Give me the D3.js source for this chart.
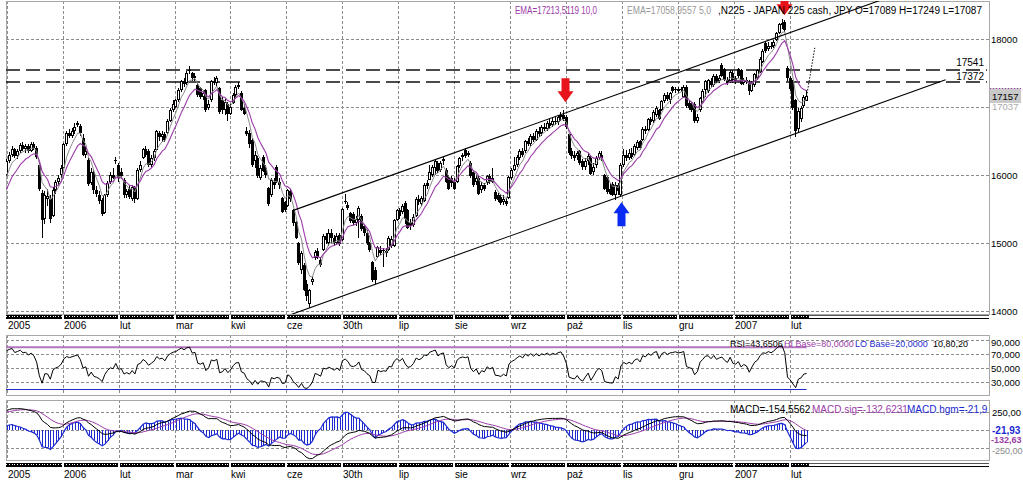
<!DOCTYPE html>
<html>
<head>
<meta charset="utf-8">
<script src="https://cdn.jsdelivr.net/npm/d3@7"></script>
<style>
  body { margin: 0; background: #fff; }
  svg { display: block; }
  text { font-family: "Liberation Sans", Arial, sans-serif; }
</style>
</head>
<body>
<svg id="chart" width="1023" height="482"></svg>
<script>
// daily N225 bars
var open = [
  16000,16200,16300,16380,16280,16360,16440,16380,16420,16360,
  16450,16400,16150,15740,15350,15650,15640,15400,15780,15890,
  16000,16110,16450,16620,16570,16640,16740,16720,16550,16300,
  16220,15880,16050,15780,15700,15630,15440,15700,15900,16000,
  16200,16150,16050,15930,15700,15800,15650,15820,15640,16080,
  16250,16380,16350,16150,16250,16370,16620,16560,16600,16620,
  16800,16950,17000,17100,17250,17380,17350,17540,17500,17420,
  17330,17280,17150,17250,16980,17100,17380,17350,17280,17100,
  16950,17050,16900,17060,17180,17300,17200,16980,16650,16620,
  16520,16200,16250,15960,16270,16100,15810,15700,15900,16120,
  15900,15660,15600,15550,15760,15490,15310,15000,14600,14680,
  14400,14100,14430,14780,14880,14750,14900,15100,15000,15150,
  15080,15000,15120,15050,15600,15560,15440,15420,15300,15340,
  15400,15250,15150,15000,14720,14600,14800,14900,14880,14850,
  14900,14950,14960,15340,15480,15450,15590,15490,15300,15260,
  15400,15650,15580,15620,15880,15930,16000,16100,16180,16080,
  16200,16080,15970,15950,15900,15900,16130,16260,16370,16300,
  16180,16050,15900,15960,15780,15850,15880,15980,15900,15750,
  15700,15680,15600,15620,15660,15950,16080,16150,16250,16350,
  16350,16500,16450,16580,16520,16650,16620,16700,16680,16760,
  16730,16800,16780,16850,16880,16850,16600,16350,16300,16280,
  16350,16200,16120,16200,16250,16050,16150,16250,16300,16000,
  15970,15800,15870,15700,15850,15700,16150,16300,16250,16320,
  16300,16400,16500,16520,16680,16660,16820,16800,16880,16950,
  16960,17090,17170,17100,17290,17250,17260,17250,17150,17300,
  17060,17040,17050,16800,16950,17080,17250,17230,17380,17320,
  17460,17380,17620,17560,17400,17380,17500,17420,17560,17540,
  17350,17400,17370,17240,17330,17420,17520,17660,17940,17850,
  17900,17890,17990,18090,18200,18250,17570,17430,17370,17100,
  16680,16820,17010,17089
];
var high = [
  16230,16340,16420,16400,16380,16470,16480,16460,16450,16480,
  16490,16420,16180,15780,15760,15800,15700,15820,15920,16000,
  16140,16470,16650,16670,16690,16760,16790,16750,16600,16420,
  16250,16100,16080,15840,15760,15660,15720,15910,16050,16100,
  16270,16180,16100,15950,15800,15850,15850,15840,16100,16200,
  16400,16420,16380,16300,16380,16660,16650,16640,16630,16830,
  16980,17100,17120,17280,17400,17430,17530,17600,17520,17500,
  17360,17300,17250,17270,17100,17400,17440,17450,17300,17150,
  17120,17080,17050,17200,17330,17370,17230,17050,16700,16660,
  16540,16350,16280,16150,16300,16150,15830,15960,15960,16150,
  15950,15680,15620,15800,15800,15500,15330,15020,14880,14700,
  14450,14330,14520,14900,14920,14800,15130,15150,15200,15200,
  15120,15150,15150,15520,15720,15600,15460,15450,15400,15540,
  15420,15280,15190,15020,14740,14650,14960,14950,14920,14930,
  15100,15100,15360,15500,15510,15570,15620,15500,15350,15420,
  15670,15700,15690,15880,15930,16150,16150,16220,16200,16200,
  16260,16100,16000,15980,15950,16150,16270,16330,16400,16350,
  16200,16080,16000,15980,15900,15880,16000,16020,16100,15780,
  15740,15720,15700,15660,15990,16100,16270,16290,16380,16400,
  16520,16550,16600,16620,16680,16700,16740,16760,16790,16820,
  16840,16850,16880,16920,16950,16880,16620,16400,16350,16360,
  16370,16240,16250,16320,16280,16170,16280,16360,16350,16020,
  15990,15880,15890,15900,15880,16170,16380,16370,16380,16400,
  16460,16520,16520,16700,16720,16840,16860,16950,17010,16970,
  17110,17200,17220,17220,17310,17290,17290,17290,17320,17320,
  17100,17070,17070,16900,17150,17260,17400,17410,17420,17480,
  17490,17470,17640,17580,17440,17540,17540,17460,17580,17560,
  17430,17440,17390,17380,17500,17560,17730,17850,17960,17950,
  17960,17990,18110,18240,18300,18280,17600,17450,17400,17120,
  16980,17020,17170,17249
];
var low = [
  15980,16170,16260,16250,16240,16330,16350,16330,16320,16340,
  16370,16230,15760,15070,15280,15550,15300,15380,15720,15860,
  15960,16100,16420,16550,16540,16610,16700,16580,16280,16250,
  15840,15850,15720,15680,15580,15400,15420,15680,15870,15940,
  16160,15900,15940,15660,15660,15650,15620,15590,15630,16050,
  16230,16260,16120,16120,16200,16350,16500,16490,16480,16600,
  16780,16930,16980,17080,17220,17300,17330,17480,17380,17380,
  17150,17120,17100,16920,16950,17080,17320,17300,16900,16900,
  16880,16800,16880,17040,17150,17270,16940,16880,16570,16400,
  16120,16100,15950,15920,16040,15950,15550,15680,15800,15880,
  15800,15440,15450,15530,15600,15250,15060,14680,14550,14290,
  14150,14050,14380,14750,14760,14640,14880,14990,14960,15000,
  14950,14970,14950,15030,15580,15480,15290,15260,15250,15080,
  15170,15100,14970,14870,14430,14400,14780,14820,14650,14800,
  14880,14920,14940,15320,15360,15420,15280,15200,15190,15230,
  15380,15560,15550,15600,15800,15920,15970,16000,16030,16040,
  16150,15880,15780,15820,15780,15880,16100,16200,16250,16260,
  15960,15830,15850,15700,15740,15760,15860,15870,15880,15620,
  15600,15560,15560,15540,15640,15930,16060,16120,16220,16270,
  16330,16420,16420,16480,16500,16560,16580,16640,16640,16680,
  16700,16740,16740,16800,16800,16680,16300,16230,16200,16220,
  16150,16080,16080,16150,16000,16000,16100,16220,16200,15780,
  15720,15700,15690,15630,15700,15680,16120,16210,16220,16240,
  16280,16370,16370,16500,16600,16640,16740,16770,16860,16810,
  16940,17060,17090,17040,17200,17210,17210,17220,17130,16990,
  16950,16930,16770,16770,16930,17060,17150,17210,17300,17300,
  17350,17350,17440,17380,17330,17350,17360,17340,17430,17320,
  17330,17340,17180,17220,17300,17400,17500,17640,17800,17820,
  17850,17870,17970,18070,18140,18100,17380,17230,16950,16560,
  16620,16780,16980,17087
];
var close = [
  16200,16300,16380,16280,16350,16440,16380,16420,16360,16450,
  16400,16260,15800,15340,15700,15690,15350,15780,15890,15950,
  16100,16450,16620,16580,16640,16700,16760,16620,16300,16350,
  15870,16050,15780,15720,15620,15420,15700,15880,16000,15960,
  16220,15950,15980,15700,15760,15680,15820,15650,16080,16150,
  16380,16300,16150,16250,16360,16640,16560,16600,16520,16800,
  16950,17050,17100,17250,17380,17340,17500,17550,17420,17460,
  17180,17150,17200,16950,17050,17380,17350,17420,16920,16950,
  17080,16900,17000,17180,17300,17320,16960,16900,16600,16450,
  16150,16300,15980,16100,16060,16000,15580,15930,15850,15900,
  15850,15460,15480,15780,15650,15300,15080,14700,14860,14310,
  14220,14310,14470,14870,14800,14680,15100,15050,15150,15080,
  15000,15100,14980,15500,15620,15520,15320,15300,15350,15520,
  15200,15150,15000,14900,14450,14450,14940,14860,14900,14880,
  15080,15060,15340,15480,15400,15540,15350,15220,15250,15380,
  15650,15600,15660,15860,15840,16050,16120,16200,16060,16180,
  16230,15900,15800,15880,15800,16130,16250,16300,16280,16320,
  15980,15850,15950,15720,15850,15800,15980,15900,15960,15640,
  15630,15590,15650,15580,15970,16080,16150,16260,16350,16300,
  16500,16450,16580,16520,16650,16600,16700,16680,16760,16720,
  16800,16780,16850,16880,16820,16700,16320,16280,16250,16320,
  16180,16120,16200,16280,16020,16120,16250,16320,16250,15800,
  15750,15720,15710,15850,15760,16150,16300,16250,16320,16270,
  16420,16480,16400,16680,16650,16820,16780,16920,16990,16830,
  17090,17170,17120,17200,17230,17260,17240,17260,17300,17010,
  16980,16960,16790,16860,17130,17240,17380,17390,17330,17460,
  17380,17430,17460,17400,17360,17520,17400,17380,17450,17340,
  17400,17370,17230,17350,17480,17540,17710,17830,17820,17900,
  17880,17960,18090,18220,18230,18130,17420,17260,16980,16640,
  16940,16990,17140,17157
];
// closes before the first drawn bar, only to warm up the indicators
var priorClose = [
  13870,13980,14020,14100,14170,14080,14150,14260,14390,14470,
  14550,14620,14490,14580,14680,14750,14870,14900,15130,15420,
  15550,15420,15180,15400,15740,15480,15360,15250,15170,15530,
  15640,15940,15960,16000,15950
];

var tickBars = [0, 20.5, 41, 61.5, 82, 102.5, 123, 143.5, 164, 184.5, 205, 225.5, 246, 266.5, 287];
var tickLabels = ["2005", "2006", "lut", "mar", "kwi", "cze", "30th", "lip", "sie", "wrz", "paź", "lis", "gru", "2007", "lut"];
var priceGrid = [18000, 17000, 16000, 15000, 14000];
var priceLabels = [18000, 16000, 15000, 14000];
var levels = [17541, 17372];
var upperChannel = [[105, 15480], [330, 18713]];
var lowerChannel = [[103.6, 13940], [343.9, 17400]];
var projection = [[293, 17157], [296, 17870]];
var arrows = [
  {bar: 204.4, price: 17070, dir: "down", color: "#e8141c"},
  {bar: 284.9, price: 18350, dir: "down", color: "#e8141c"},
  {bar: 224.9, price: 15600, dir: "up", color: "#0a2cf2"}
];
var rsiGrid = [90, 70, 50, 30];
var rsiGridLabels = ["90,000", "70,000", "50,000", "30,000"];
var rsiBase = {hi: 80, lo: 20};
var macdGrid = [250, 0, -250];

var purple = "#9b3ca8", blue = "#1c2ad0";
var left = 6, right = 989;
var mainTop = 1, mainBottom = 314;
var rsiTop = 335, rsiBottom = 395;
var macdTop = 400, macdBottom = 460;

// indicators
function ema(values, n) {
  var k = 2 / (n + 1), out = [], prev;
  values.forEach(function(v, i) {
    prev = i === 0 ? v : v * k + prev * (1 - k);
    out.push(prev);
  });
  return out;
}
function rsi(values, n) {
  var out = [50], up = 0, down = 0;
  for (var i = 1; i < values.length; i++) {
    var d = values[i] - values[i - 1];
    var g = Math.max(d, 0), l = Math.max(-d, 0);
    if (i <= n) { up += g / n; down += l / n; }
    else { up = (up * (n - 1) + g) / n; down = (down * (n - 1) + l) / n; }
    out.push(down === 0 ? 100 : 100 - 100 / (1 + up / down));
  }
  return out;
}
var all = priorClose.concat(close), skip = priorClose.length;
var ema10 = ema(all, 10).slice(skip);
var ema5 = ema(all, 5).slice(skip);
var rsi10 = rsi(all, 10).slice(skip);
var e12 = ema(all, 12), e26 = ema(all, 26);
var macdAll = e12.map(function(v, i) { return v - e26[i]; });
var sigAll = ema(macdAll, 9);
var macd = macdAll.slice(skip), signal = sigAll.slice(skip);
var hist = macd.map(function(v, i) { return v - signal[i]; });

var bars = d3.range(close.length);
var x = d3.scaleLinear().domain([0, 293]).range([6.6, 806.6]);
var y = d3.scaleLinear().domain([14000, 18000]).range([311, 39]);
var yRsi = d3.scaleLinear().domain([30, 90]).range([382.3, 340.3]);
// grid/labels of the MACD pane, a squeezed scale for the lines, a stretched one for the histogram
var yMacdAxis = d3.scaleLinear().domain([-250, 250]).range([448.3, 411.7]);
var yMacd = d3.scaleLinear().domain([-360, 360]).range([448.3, 411.7]);
var yHist = d3.scaleLinear().domain([-150, 150]).range([448.3, 411.7]);

var svg = d3.select("#chart");
var defs = svg.append("defs");
function clip(id, y0, y1) {
  defs.append("clipPath").attr("id", id).append("rect")
    .attr("x", left).attr("y", y0).attr("width", right - left).attr("height", y1 - y0);
  return "url(#" + id + ")";
}
var px = function(v) { return Math.round(v) + 0.5; };

function panel(y0, y1, hValues, scale) {
  var g = svg.append("g");
  g.selectAll(".vg").data(tickBars).enter().append("line")
    .attr("x1", function(d) { return px(x(d)); }).attr("x2", function(d) { return px(x(d)); })
    .attr("y1", y0).attr("y2", y1)
    .attr("stroke", "#8c8c8c").attr("stroke-dasharray", "3,2");
  g.selectAll(".hg").data(hValues).enter().append("line")
    .attr("x1", left).attr("x2", right)
    .attr("y1", function(d) { return px(scale(d)); }).attr("y2", function(d) { return px(scale(d)); })
    .attr("stroke", "#8c8c8c").attr("stroke-dasharray", "3,2");
  g.append("rect").attr("x", left + 0.5).attr("y", y0 + 0.5)
    .attr("width", right - left).attr("height", y1 - y0)
    .attr("fill", "none").attr("stroke", "#a8a8a8");
  return g;
}

function band(y0) {
  var xEnd = Math.floor(x(close.length - 1)) + 3;
  svg.append("rect").attr("x", left).attr("y", y0).attr("width", xEnd - left).attr("height", 4).attr("fill", "#000");
  svg.append("g").selectAll("rect").data(bars).enter().append("rect")
    .attr("x", function(i) { return Math.floor(x(i)); }).attr("y", y0 + 1)
    .attr("width", 1).attr("height", 1).attr("fill", "#fff");
  svg.append("g").selectAll("rect").data(tickBars.slice(1)).enter().append("rect")
    .attr("x", function(d) { return Math.round(x(d)) - 1; }).attr("y", y0)
    .attr("width", 2).attr("height", 4).attr("fill", "#fff");
  svg.append("line").attr("x1", xEnd).attr("x2", right).attr("y1", y0 + 0.5).attr("y2", y0 + 0.5).attr("stroke", "#555");
  svg.append("line").attr("x1", xEnd).attr("x2", right).attr("y1", y0 + 3.5).attr("y2", y0 + 3.5).attr("stroke", "#000");
}
function dateLabels(baseline) {
  svg.append("g").selectAll("text").data(tickBars).enter().append("text")
    .attr("x", function(d) { return Math.round(x(d)) + 1; }).attr("y", baseline)
    .attr("font-size", 10).attr("fill", "#000")
    .text(function(d, i) { return tickLabels[i]; });
}
function label(tx, ty, str, size, color, extra) {
  var t = svg.append("text").attr("x", tx).attr("y", ty).attr("font-size", size).attr("fill", color).text(str);
  if (extra) extra(t);
  return t;
}

// ---------- main price panel ----------
panel(mainTop, mainBottom, priceGrid, y);
var main = svg.append("g").attr("clip-path", clip("clipMain", mainTop, mainBottom));

main.selectAll(".lvl").data(levels).enter().append("line")
  .attr("x1", left).attr("x2", right - 2)
  .attr("y1", function(d) { return Math.round(y(d)); }).attr("y2", function(d) { return Math.round(y(d)); })
  .attr("stroke", "#111").attr("stroke-width", 1.6).attr("stroke-dasharray", "14,6");

var top_ = function(i) { return Math.round(y(Math.max(open[i], close[i]))); };
var bodyH = function(i) { return Math.max(1, Math.round(y(Math.min(open[i], close[i]))) - top_(i)); };
var candle = main.append("g").attr("shape-rendering", "crispEdges")
  .selectAll("g").data(bars).enter().append("g");
candle.append("rect")
  .attr("x", function(i) { return Math.floor(x(i)); })
  .attr("y", function(i) { return Math.round(y(high[i])); })
  .attr("width", 1)
  .attr("height", function(i) { return Math.max(1, Math.round(y(low[i])) - Math.round(y(high[i]))); })
  .attr("fill", "#000");
candle.append("rect")
  .attr("x", function(i) { return Math.floor(x(i)) - 1; })
  .attr("y", top_).attr("width", 3).attr("height", bodyH).attr("fill", "#000");
candle.filter(function(i) { return close[i] > open[i] && bodyH(i) > 2; }).append("rect")
  .attr("x", function(i) { return Math.floor(x(i)); })
  .attr("y", function(i) { return top_(i) + 1; })
  .attr("width", 1).attr("height", function(i) { return bodyH(i) - 2; }).attr("fill", "#fff");

var priceLine = d3.line().x(function(d, i) { return x(i); }).y(function(d) { return y(d); });
main.append("path").attr("d", priceLine(ema5)).attr("fill", "none").attr("stroke", "#8a8a8a").attr("stroke-width", 1);
main.append("path").attr("d", priceLine(ema10)).attr("fill", "none").attr("stroke", purple).attr("stroke-width", 1.1);

var segLine = d3.line().x(function(d) { return x(d[0]); }).y(function(d) { return y(d[1]); });
[upperChannel, lowerChannel].forEach(function(c) {
  main.append("path").attr("d", segLine(c)).attr("fill", "none").attr("stroke", "#000").attr("stroke-width", 1.1);
});
main.append("path").attr("d", segLine(projection)).attr("fill", "none")
  .attr("stroke", "#000").attr("stroke-dasharray", "1.5,1.5");

function arrowPath(cx, tip, dir) {
  var s = dir === "down" ? -1 : 1;
  return "M" + cx + "," + tip +
    "L" + (cx - 8) + "," + (tip + s * 11) +
    "L" + (cx - 4) + "," + (tip + s * 11) +
    "L" + (cx - 4) + "," + (tip + s * 24) +
    "L" + (cx + 4) + "," + (tip + s * 24) +
    "L" + (cx + 4) + "," + (tip + s * 11) +
    "L" + (cx + 8) + "," + (tip + s * 11) + "Z";
}
main.selectAll(".arrow").data(arrows).enter().append("path")
  .attr("d", function(d) { return arrowPath(Math.round(x(d.bar)) + 0.5, y(d.price), d.dir); })
  .attr("fill", function(d) { return d.color; });

// legend and price labels
label(515, 14, "EMA=17213,5119  10,0", 10, purple, function(t) { t.attr("textLength", 82).attr("lengthAdjust", "spacingAndGlyphs"); });
label(627, 14, "EMA=17058,9557  5,0", 10, "#999", function(t) { t.attr("textLength", 84).attr("lengthAdjust", "spacingAndGlyphs"); });
label(718, 14, ",N225 - JAPAN 225 cash, JPY O=17089 H=17249 L=17087", 10, "#000");
svg.selectAll(".pl").data(priceLabels).enter().append("text")
  .attr("x", 991).attr("y", function(d) { return y(d) + 3.5; })
  .attr("font-size", 9.5).attr("fill", "#000").text(function(d) { return d; });
svg.selectAll(".lv").data(levels).enter().append("text")
  .attr("x", 984).attr("y", function(d, i) { return i === 0 ? y(d) - 4 : y(d) - 2; })
  .attr("text-anchor", "end").attr("font-size", 10).attr("fill", "#000")
  .text(function(d) { return d; });
label(992, 110, "17037", 9.5, "#aaa");
svg.append("rect").attr("x", 990).attr("y", 88).attr("width", 31).attr("height", 15).attr("fill", "#c9c9c9");
svg.append("line").attr("x1", 990).attr("x2", 1021).attr("y1", 88.5).attr("y2", 88.5)
  .attr("stroke", purple).attr("stroke-dasharray", "1,2");
label(992, 100, "17157", 9.5, "#000");

band(315);
dateLabels(329);

// ---------- RSI panel ----------
panel(rsiTop, rsiBottom, rsiGrid, yRsi);
var rsiG = svg.append("g").attr("clip-path", clip("clipRsi", rsiTop, rsiBottom));
var xEndData = x(close.length - 1);
rsiG.append("line").attr("x1", left).attr("x2", xEndData)
  .attr("y1", yRsi(rsiBase.hi)).attr("y2", yRsi(rsiBase.hi))
  .attr("stroke", "#b174bd").attr("stroke-width", 2);
rsiG.append("line").attr("x1", left).attr("x2", xEndData)
  .attr("y1", px(yRsi(rsiBase.lo))).attr("y2", px(yRsi(rsiBase.lo)))
  .attr("stroke", blue).attr("stroke-width", 1);
rsiG.append("path")
  .attr("d", d3.line().x(function(d, i) { return x(i); }).y(function(d) { return yRsi(d); })(rsi10))
  .attr("fill", "none").attr("stroke", "#000").attr("stroke-width", 1);
label(730, 347, "RSI=43,6506", 9, "#000");
label(784, 347, "HI Base=80,0000", 9, purple);
label(855, 347, "LO Base=20,0000", 9, blue);
label(933, 347, "10,80,20", 9, "#000");
svg.selectAll(".rl").data(rsiGrid).enter().append("text")
  .attr("x", 991).attr("y", function(d, i) { return i === 0 ? yRsi(d) + 6 : yRsi(d) + 3.5; })
  .attr("font-size", 9.5).attr("fill", "#000").text(function(d, i) { return rsiGridLabels[i]; });

// ---------- MACD panel ----------
panel(macdTop, macdBottom, macdGrid, yMacdAxis);
var macdG = svg.append("g").attr("clip-path", clip("clipMacd", macdTop, macdBottom));
macdG.selectAll(".hb").data(bars).enter().append("line")
  .attr("x1", function(i) { return px(x(i)); }).attr("x2", function(i) { return px(x(i)); })
  .attr("y1", yHist(0)).attr("y2", function(i) { return yHist(hist[i]); })
  .attr("stroke", blue).attr("stroke-width", 1);
var mLine = d3.line().x(function(d, i) { return x(i); }).y(function(d) { return yMacd(d); });
var hLine = d3.line().x(function(d, i) { return x(i); }).y(function(d) { return yHist(d); });
macdG.append("path").attr("d", hLine(hist)).attr("fill", "none").attr("stroke", blue).attr("stroke-width", 1.2);
macdG.append("path").attr("d", mLine(signal)).attr("fill", "none").attr("stroke", purple).attr("stroke-width", 1);
macdG.append("path").attr("d", mLine(macd)).attr("fill", "none").attr("stroke", "#000").attr("stroke-width", 1);
label(730, 413, "MACD=-154,5562", 10, "#000");
label(812, 413, "MACD.sig=-132,6231", 10, purple);
label(907, 413, "MACD hgm=-21,9", 10, blue);
label(992, 416, "250,00", 9.5, "#000");
label(992, 454, "-250,00", 9, "#888");
label(991, 443, "-132,63", 9, purple, function(t) { t.attr("font-weight", "bold"); });
label(992, 434, "-21,93", 10, blue, function(t) { t.attr("font-weight", "bold"); });

band(463);
dateLabels(478);
</script>
</body>
</html>
